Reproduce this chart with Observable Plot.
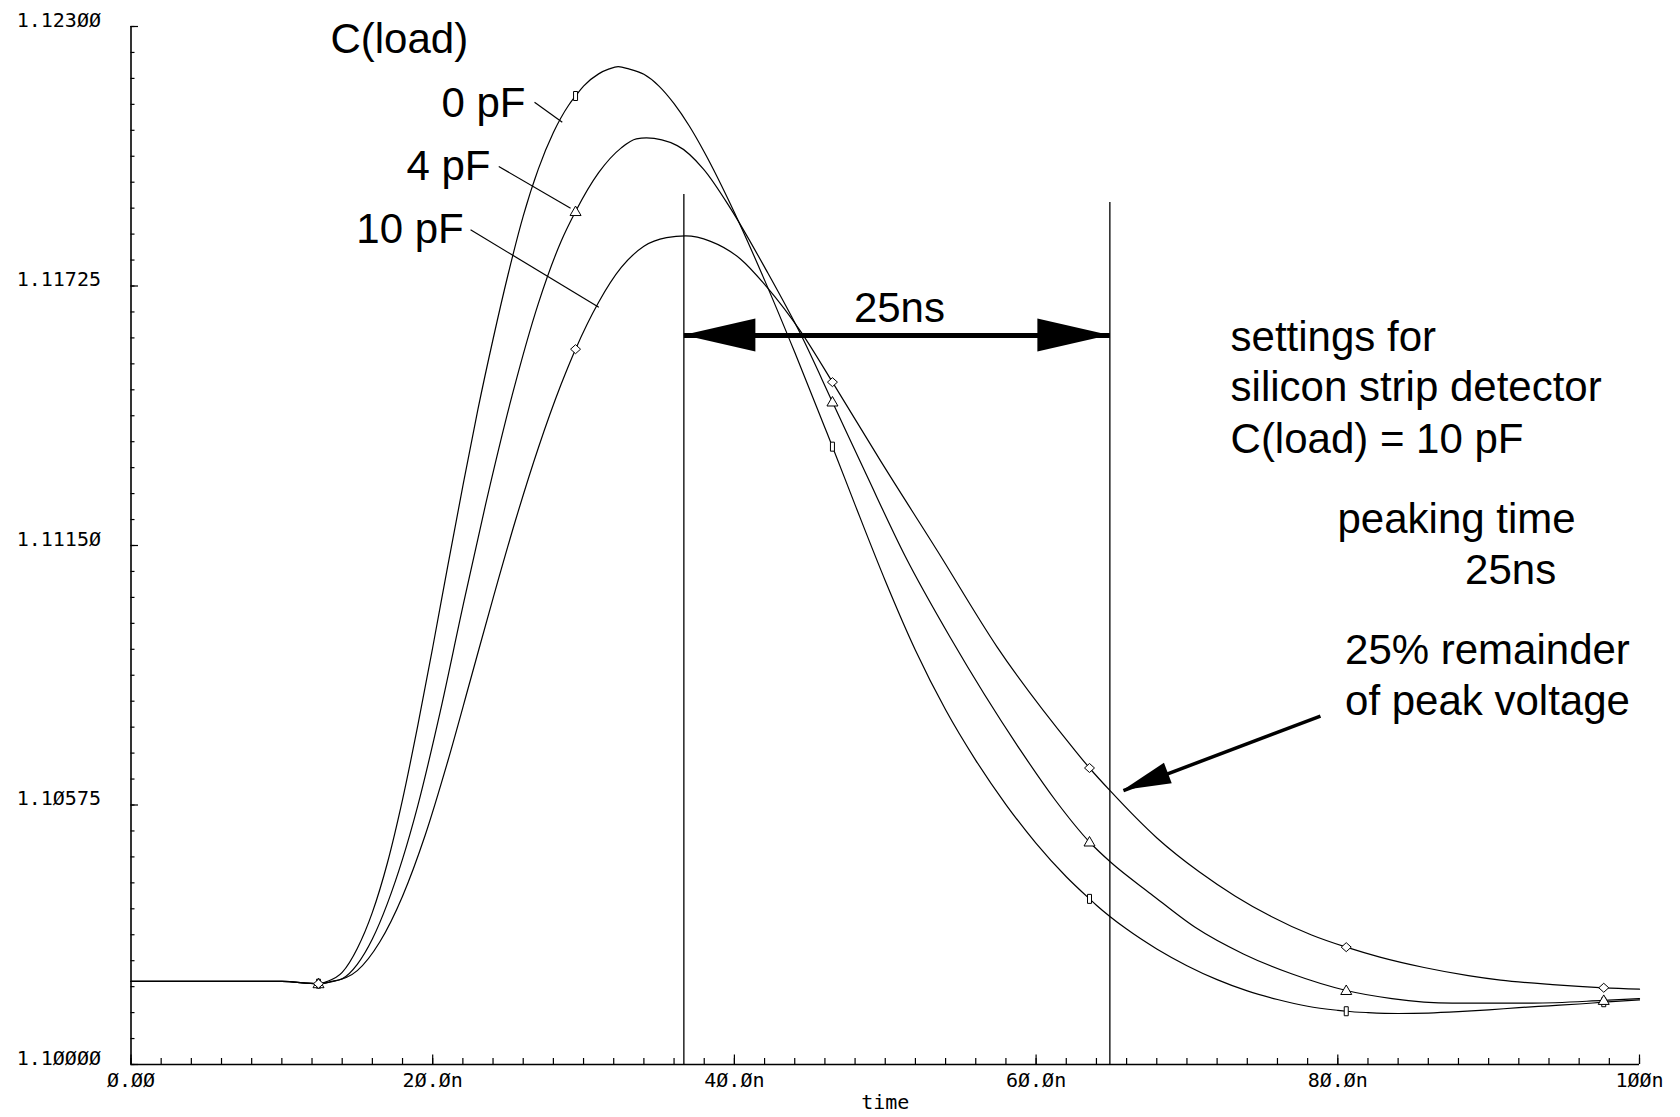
<!DOCTYPE html>
<html>
<head>
<meta charset="utf-8">
<script src="https://cdn.jsdelivr.net/npm/d3@7"></script>
<script src="https://cdn.jsdelivr.net/npm/@observablehq/plot@0.6"></script>
<style>
  html, body { margin: 0; padding: 0; background: #fff; }
  svg { display: block; }
</style>
</head>
<body>
<div id="chart"></div>
<script>
// ---- data (time in ns, output in V) ----
const seriesNames = ["0 pF", "4 pF", "10 pF"];

const time0 = [0, 6, 10, 12.43, 13.0, 14, 15, 16, 17, 18, 19, 20, 21, 22, 23, 24, 25, 26, 27, 28, 29, 29.47, 30, 31, 31.7, 32.3, 33, 34, 35, 36, 37, 38, 40, 42, 44, 46, 46.5, 48, 50, 52, 54, 56, 58, 60, 62, 63.54, 64, 66, 68, 70, 72, 74, 76, 78, 80, 80.56, 82, 84, 86, 88, 90, 92, 94, 96, 97.63, 100];
const volt0 = [1.10184, 1.10184, 1.10184, 1.10179, 1.10184, 1.10204, 1.10257, 1.10337, 1.10447, 1.10587, 1.10749, 1.10924, 1.11105, 1.11282, 1.11452, 1.11607, 1.11751, 1.11880, 1.11984, 1.12065, 1.12125, 1.12146, 1.12168, 1.12195, 1.12206, 1.12211, 1.12206, 1.12194, 1.12168, 1.12129, 1.12080, 1.12022, 1.11888, 1.11738, 1.11578, 1.11411, 1.11369, 1.11240, 1.11072, 1.10918, 1.10786, 1.10674, 1.10576, 1.10490, 1.10416, 1.10367, 1.10353, 1.10300, 1.10256, 1.10219, 1.10188, 1.10163, 1.10144, 1.10129, 1.10120, 1.10118, 1.10115, 1.10113, 1.10114, 1.10117, 1.10121, 1.10126, 1.10130, 1.10134, 1.10138, 1.10143];

const time4 = [0, 6, 10, 12.43, 13.3, 14, 15, 16, 17, 18, 19, 20.5, 22, 23.5, 25.27, 27, 28.5, 29.47, 31, 32.5, 33.5, 34.17, 36.21, 37.95, 39.74, 42.13, 44.38, 46.5, 48.76, 51.34, 54.33, 58.97, 61.29, 63.54, 64.95, 67.61, 70.54, 73.74, 76.93, 80.56, 83.59, 87.59, 92.91, 97.63, 100];
const volt4 = [1.10184, 1.10184, 1.10184, 1.10179, 1.10184, 1.10190, 1.10222, 1.10278, 1.10357, 1.10455, 1.10572, 1.10782, 1.11015, 1.11240, 1.11483, 1.11686, 1.11823, 1.11890, 1.11976, 1.12031, 1.12051, 1.12053, 1.12036, 1.11984, 1.11897, 1.11759, 1.11619, 1.11468, 1.11306, 1.11125, 1.10945, 1.10696, 1.10585, 1.10493, 1.10448, 1.10378, 1.10304, 1.10245, 1.10201, 1.10164, 1.10146, 1.10136, 1.10136, 1.10142, 1.10146];

const time10 = [0, 6, 10, 12.43, 13.4, 15, 16.5, 18, 19.5, 21, 22.5, 24, 25.5, 27, 28.5, 29.47, 31, 32.5, 34, 35.5, 36.76, 38.42, 40.4, 42.17, 44.38, 46.5, 49.68, 53.44, 57.42, 62.48, 63.54, 64.95, 68.01, 70.81, 73.21, 75.47, 78.26, 80.56, 82.79, 85.72, 88.65, 90.79, 94.23, 97.63, 100];
const volt10 = [1.10184, 1.10184, 1.10184, 1.10179, 1.10184, 1.10208, 1.10272, 1.10373, 1.10508, 1.10672, 1.10852, 1.11033, 1.11207, 1.11366, 1.11506, 1.11585, 1.11689, 1.11766, 1.11813, 1.11832, 1.11836, 1.11824, 1.11785, 1.11722, 1.11625, 1.11512, 1.11338, 1.11139, 1.10925, 1.10700, 1.10657, 1.10605, 1.10502, 1.10427, 1.10373, 1.10330, 1.10287, 1.10260, 1.10238, 1.10215, 1.10197, 1.10187, 1.10177, 1.10170, 1.10167];

const markerTimes = [12.43, 29.47, 46.5, 63.54, 80.56, 97.63];

// axes
const yMajor = [1.10000, 1.10575, 1.11150, 1.11725, 1.12300];
const yTickLabels = ["1.1ØØØØ", "1.1Ø575", "1.1115Ø", "1.11725", "1.123ØØ"];
const xMajor = [0, 20, 40, 60, 80, 100];
const xTickLabels = ["Ø.ØØ", "2Ø.Øn", "4Ø.Øn", "6Ø.Øn", "8Ø.Øn", "1ØØn"];
const xTitle = "time";

// annotations
const legendTitle = "C(load)";
const legendTitleT = 13.22, legendTitleV = 1.122721;
const curveLabels = ["0 pF", "4 pF", "10 pF"];
const curveLabelT = [26.15, 23.83, 22.06];
const curveLabelV = [1.121303, 1.119907, 1.118496];

const leaderT1 = [26.75, 24.38, 22.51];
const leaderV1 = [1.121323, 1.119898, 1.118496];
const leaderT2 = [28.59, 29.14, 31.01];
const leaderV2 = [1.120880, 1.118974, 1.116780];

const noteLines = ["settings for", "silicon strip detector", "C(load) = 10 pF", "peaking time", "25ns", "25% remainder", "of peak voltage"];
const noteT = [72.89, 72.89, 72.89, 79.98, 88.44, 80.48, 80.48];
const noteV = [1.116118, 1.115010, 1.113858, 1.112074, 1.110955, 1.109183, 1.108039];

const cursorT = [36.65, 64.89];
const cursorTopV = [1.11928, 1.11910];
const spanV = 1.116153;
const spanLabel = "25ns";
const spanLabelT = 50.94;
const spanLabelV = 1.116745;

const pointerTail = {t: 78.85, v: 1.107718};
const pointerTip = {t: 65.79, v: 1.106071};

// ---- build table ----
const rows = [
  ...time0.map((t, i) => ({series: seriesNames[0], t, v: volt0[i]})),
  ...time4.map((t, i) => ({series: seriesNames[1], t, v: volt4[i]})),
  ...time10.map((t, i) => ({series: seriesNames[2], t, v: volt10[i]}))
];
const isMarker = d => markerTimes.includes(d.t);

const rectSym = {draw(c) { c.moveTo(-2, -4.5); c.lineTo(2, -4.5); c.lineTo(2, 4.5); c.lineTo(-2, 4.5); c.closePath(); }};
const triSym = {draw(c) { c.moveTo(0, -5.5); c.lineTo(5.5, 4); c.lineTo(-5.5, 4); c.closePath(); }};
const diaSym = {draw(c) { c.moveTo(0, -4.5); c.lineTo(5, 0); c.lineTo(0, 4.5); c.lineTo(-5, 0); c.closePath(); }};

const W = 1680, H = 1117;
const mL = 130.5, mR = 41, mT = 26, mB = 53;
const frameW = W - mL - mR, frameH = H - mT - mB;
const mono = "DejaVu Sans Mono";
const sans = "Liberation Sans, Arial, sans-serif";

const yLab = new Map(yMajor.map((d, i) => [d, yTickLabels[i]]));
const xLab = new Map(xMajor.map((d, i) => [d, xTickLabels[i]]));
const yMinor = d3.range(0, 41).map(i => 1.1 + i * 0.000575);
const xMinor = d3.range(0, 51).map(i => i * 2);

const textStyle = {fontSize: 42, fontFamily: sans, fill: "black"};

const chart = Plot.plot({
  width: W, height: H,
  marginLeft: mL, marginRight: mR, marginTop: mT, marginBottom: mB,
  x: {domain: [0, 100], label: null},
  y: {domain: [1.1, 1.123], label: null},
  style: {fontFamily: sans, background: "white", color: "black", overflow: "visible"},
  marks: [
    // tick labels
    Plot.axisY(yMajor, {tickSize: 0, tickPadding: 30, tickFormat: d => yLab.get(d), fontFamily: mono, fontSize: 20, dy: -6, label: null}),
    Plot.axisX(xMajor, {tickSize: 0, tickPadding: 8, tickFormat: d => xLab.get(d), fontFamily: mono, fontSize: 20, label: null}),
    Plot.text([xTitle], {frameAnchor: "bottom", dy: 44, fontFamily: mono, fontSize: 20, fill: "black"}),
    // inward ticks
    Plot.tickY(yMinor, {y: d => d, insetRight: frameW - 4, stroke: "black", strokeWidth: 1.2}),
    Plot.tickY(yMajor, {y: d => d, insetRight: frameW - 7.5, stroke: "black", strokeWidth: 1.2}),
    Plot.tickX(xMinor, {x: d => d, insetTop: frameH - 6, stroke: "black", strokeWidth: 1.2}),
    Plot.tickX(xMajor, {x: d => d, insetTop: frameH - 9.5, stroke: "black", strokeWidth: 1.2}),
    // axis lines
    Plot.ruleX([0], {stroke: "black", strokeWidth: 1.6}),
    Plot.ruleY([1.1], {stroke: "black", strokeWidth: 1.6}),
    // cursors
    Plot.ruleX(cursorT, {x: d => d, y1: (d, i) => cursorTopV[i], y2: 1.1, stroke: "black", strokeWidth: 1.3}),
    // curves
    Plot.line(rows, {x: "t", y: "v", z: "series", curve: "monotone-x", stroke: "black", strokeWidth: 1.2}),
    // markers
    Plot.dot(rows.filter(d => d.series === seriesNames[0] && isMarker(d)), {x: "t", y: "v", symbol: rectSym, r: 4, stroke: "black", fill: "white", strokeWidth: 1}),
    Plot.dot(rows.filter(d => d.series === seriesNames[1] && isMarker(d)), {x: "t", y: "v", symbol: triSym, r: 4, stroke: "black", fill: "white", strokeWidth: 1}),
    Plot.dot(rows.filter(d => d.series === seriesNames[2] && isMarker(d)), {x: "t", y: "v", symbol: diaSym, r: 4, stroke: "black", fill: "white", strokeWidth: 1}),
    // curve labels and leader lines
    Plot.link(leaderT1, {x1: d => d, y1: (d, i) => leaderV1[i], x2: (d, i) => leaderT2[i], y2: (d, i) => leaderV2[i], stroke: "black", strokeWidth: 1.2}),
    Plot.text([legendTitle], {x: legendTitleT, y: legendTitleV, text: d => d, textAnchor: "start", ...textStyle}),
    Plot.text(curveLabels, {x: (d, i) => curveLabelT[i], y: (d, i) => curveLabelV[i], text: d => d, textAnchor: "end", ...textStyle}),
    // notes
    Plot.text(noteLines, {x: (d, i) => noteT[i], y: (d, i) => noteV[i], text: d => d, textAnchor: "start", ...textStyle}),
    // span arrow
    Plot.link([spanV], {x1: cursorT[0], x2: cursorT[1], y1: d => d, y2: d => d, stroke: "black", strokeWidth: 5}),
    Plot.text([spanLabel], {x: spanLabelT, y: spanLabelV, text: d => d, ...textStyle}),
    // pointer
    Plot.link([pointerTail], {x1: d => d.t, y1: d => d.v, x2: pointerTip.t, y2: pointerTip.v, stroke: "black", strokeWidth: 3.5})
  ]
});

// filled arrowheads, placed through the plot's scales
const sx = chart.scale("x"), sy = chart.scale("y");
function head(tip, from, len, hw) {
  const dx = from[0] - tip[0], dy = from[1] - tip[1], L = Math.hypot(dx, dy);
  const ux = dx / L, uy = dy / L;
  const bx = tip[0] + ux * len, by = tip[1] + uy * len;
  const p = [tip, [bx - uy * hw, by + ux * hw], [bx + uy * hw, by - ux * hw]];
  d3.select(chart).append("path").attr("d", "M" + p.map(q => q.join(",")).join("L") + "Z").attr("fill", "black");
}
const yS = sy.apply(spanV);
head([sx.apply(cursorT[0]), yS], [sx.apply(cursorT[1]), yS], 72, 16.5);
head([sx.apply(cursorT[1]), yS], [sx.apply(cursorT[0]), yS], 72, 16.5);
head([sx.apply(pointerTip.t), sy.apply(pointerTip.v)], [sx.apply(pointerTail.t), sy.apply(pointerTail.v)], 48, 11);

document.getElementById("chart").appendChild(chart);
</script>
</body>
</html>
